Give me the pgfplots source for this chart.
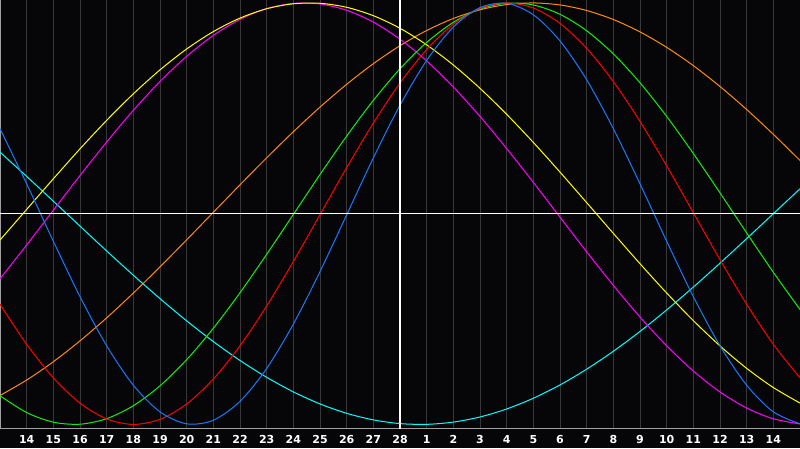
\documentclass[border=0pt]{standalone}
\usepackage{fontspec}
\setmainfont{DejaVu Sans}
\usepackage{pgfplots}
\usepackage{pgfplotstable}
\pgfplotsset{compat=1.18}
\definecolor{bg}{HTML}{060608}
\definecolor{gridgray}{HTML}{383838}
\definecolor{framegray}{HTML}{A0A0A0}
\definecolor{cblue}{HTML}{1A78FF}
\definecolor{cred}{HTML}{FF0000}
\definecolor{cgreen}{HTML}{10F010}
\definecolor{corange}{HTML}{FF8A10}
\definecolor{cyellow}{HTML}{FFFF00}
\definecolor{cmagenta}{HTML}{FF00FF}
\definecolor{ccyan}{HTML}{00FFFF}
\pgfplotstableread{
u blue red green orange yellow magenta cyan
0 0.4034 -0.4299 -0.8641 -0.8627 -0.1253 -0.3090 0.2920
1 0.1416 -0.6200 -0.9437 -0.7893 0.0204 -0.1483 0.1769
2 -0.1307 -0.7790 -0.9893 -0.7025 0.1657 0.0166 0.0593
3 -0.3935 -0.8990 -0.9990 -0.6035 0.3077 0.1809 -0.0591
4 -0.6268 -0.9739 -0.9727 -0.4943 0.4429 0.3402 -0.1769
5 -0.8139 -1.0000 -0.9112 -0.3766 0.5687 0.4905 -0.2920
6 -0.9404 -0.9759 -0.8168 -0.2525 0.6824 0.6271 -0.4030
7 -0.9973 -0.9029 -0.6928 -0.1240 0.7816 0.7468 -0.5086
8 -0.9802 -0.7847 -0.5437 0.0065 0.8641 0.8461 -0.6068
9 -0.8904 -0.6270 -0.3751 0.1370 0.9282 0.9223 -0.6966
10 -0.7346 -0.4379 -0.1929 0.2651 0.9725 0.9733 -0.7764
11 -0.5241 -0.2269 -0.0037 0.3887 0.9960 0.9978 -0.8456
12 -0.2749 -0.0045 0.1857 0.5057 0.9984 0.9951 -0.9028
13 -0.0054 0.2182 0.3683 0.6140 0.9794 0.9652 -0.9473
14 0.2646 0.4299 0.5376 0.7117 0.9396 0.9090 -0.9785
15 0.5150 0.6200 0.6875 0.7973 0.8798 0.8279 -0.9961
16 0.7272 0.7790 0.8126 0.8693 0.8012 0.7245 -0.9996
17 0.8854 0.8990 0.9082 0.9264 0.7055 0.6011 -0.9890
18 0.9780 0.9739 0.9711 0.9676 0.5948 0.4613 -0.9646
19 0.9980 1.0000 0.9987 0.9923 0.4715 0.3090 -0.9267
20 0.9440 0.9759 0.9904 1.0000 0.3381 0.1483 -0.8757
21 0.8200 0.9029 0.9462 0.9906 0.1973 -0.0166 -0.8126
22 0.6354 0.7847 0.8679 0.9642 0.0525 -0.1809 -0.7378
23 0.4034 0.6270 0.7583 0.9214 -0.0934 -0.3402 -0.6528
24 0.1416 0.4379 0.6212 0.8627 -0.2373 -0.4905 -0.5586
25 -0.1308 0.2269 0.4617 0.7893 -0.3764 -0.6271 -0.4566
26 -0.3935 0.0045 0.2854 0.7025 -0.5073 -0.7468 -0.3482
27 -0.6268 -0.2182 0.0988 0.6035 -0.6273 -0.8461 -0.2348
28 -0.8139 -0.4299 -0.0913 0.4943 -0.7340 -0.9223 -0.1182
29 -0.9404 -0.6200 -0.2782 0.3766 -0.8250 -0.9733 0.0000
30 -0.9973 -0.7790 -0.4549 0.2525 -0.8986 -0.9978 0.1182
}\biodata
\begin{document}
\begin{tikzpicture}
\fill[bg] (0,0) rectangle (800pt,448pt);
\begin{axis}[
  at={(0pt,20pt)}, anchor=south west,
  scale only axis, width=800pt, height=428pt,
  xmin=0, xmax=30, ymin=-1.017, ymax=1.014,
  xtick={1,...,29},
  xticklabels={14,15,16,17,18,19,20,21,22,23,24,25,26,27,28,1,2,3,4,5,6,7,8,9,10,11,12,13,14},
  ytick=\empty,
  major tick length=0pt,
  xmajorgrids,
  grid style={gridgray, line width=1pt},
  axis line style={framegray, line width=1pt},
  x tick label style={text=white, font=\fontsize{11}{13}\selectfont\bfseries, anchor=base, yshift=-15pt},
  every axis plot/.append style={line width=1pt, smooth},
]
\addplot[ccyan] table[x=u, y=cyan] {\biodata};
\addplot[corange] table[x=u, y=orange] {\biodata};
\addplot[cmagenta] table[x=u, y=magenta] {\biodata};
\addplot[cyellow] table[x=u, y=yellow] {\biodata};
\addplot[cgreen] table[x=u, y=green] {\biodata};
\addplot[cred] table[x=u, y=red] {\biodata};
\addplot[cblue] table[x=u, y=blue] {\biodata};
\addplot[white, line width=1.6pt, sharp plot] coordinates {(0,0) (30,0)};
\addplot[white, line width=1.6pt, sharp plot] coordinates {(15,-1.1) (15,1.1)};
\end{axis}
\pgfresetboundingbox
\path[use as bounding box] (0,0) rectangle (800pt,448pt);
\end{tikzpicture}
\end{document}
